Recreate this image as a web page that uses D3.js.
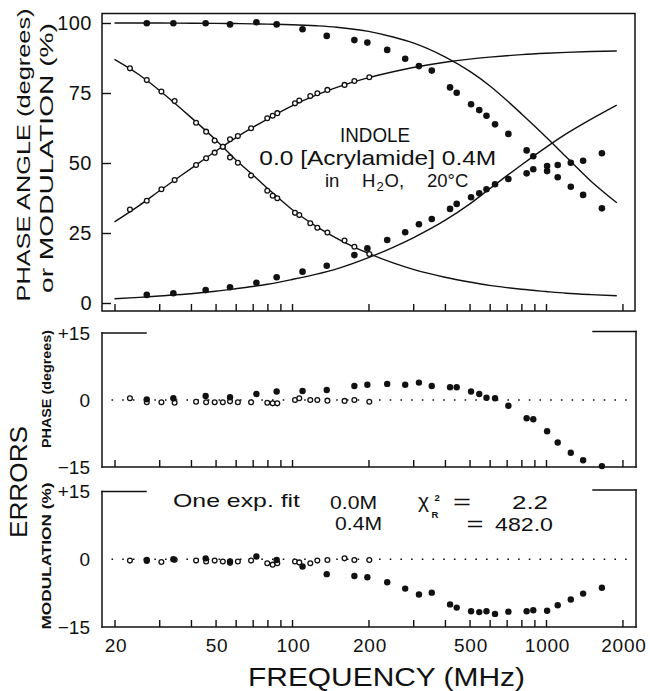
<!DOCTYPE html>
<html>
<head>
<meta charset="utf-8">
<script src="https://cdn.jsdelivr.net/npm/d3@7"></script>
<style>
  html, body { margin: 0; padding: 0; background: #fff; }
  svg { display: block; }
</style>
</head>
<body>
<svg id="chart" width="650" height="691"></svg>
<script>
// ---- Indole, acrylamide quenching: frequency-domain phase / modulation data ----

// Modulation frequencies (MHz), no quencher (open circles)
const freq0 = [23.0, 26.8, 30.6, 34.5, 41.9, 45.9, 49.6, 53.4, 57.0, 61.2, 69.0,
               79.9, 83.9, 87.5, 102.7, 106.8, 118.0, 125.8, 137.8, 161.0, 176.0, 201.5];
const phase0 = [33.4, 36.5, 40.6, 43.9, 49.3, 51.7, 53.7, 55.8, 58.5, 59.6, 62.4,
                66.0, 66.9, 67.8, 71.3, 72.3, 73.9, 74.9, 76.1, 77.9, 79.3, 80.6];
const mod0   = [83.8, 79.6, 75.5, 72.1, 64.4, 61.2, 58.0, 55.8, 52.0, 50.1, 45.5,
                40.1, 38.3, 37.4, 32.2, 31.4, 28.5, 26.9, 25.2, 22.3, 20.1, 17.5];
const phaseErr0 = [0.4, -0.5, -0.5, -0.6, -0.4, -0.5, -0.5, -0.5, -0.3, -0.5, -0.5,
                   -0.6, -0.75, -0.75, 0.0, 0.4, 0.0, 0.0, -0.15, -0.2, 0.0, -0.4];
const modErr0   = [-0.3, -0.4, -0.6, -0.1, -0.3, -0.5, -0.3, -0.5, -0.8, -0.5, -0.3,
                   -0.9, -1.2, -0.9, -0.5, -0.7, -0.9, -0.3, -0.15, 0.2, -0.15, -0.15];

// Modulation frequencies (MHz), 0.4 M acrylamide (filled circles)
const freq4 = [26.8, 34.1, 45.7, 57.0, 72.4, 87.0, 110, 137, 176, 198, 237, 279, 316, 355,
               419, 445, 507, 546, 583, 630, 711, 839, 891, 1010, 1112, 1252, 1400, 1660];
const phase4 = [2.9, 3.5, 4.6, 5.6, 7.25, 9.2, 11.2, 13.3, 17.1, 19.5, 22.5, 25.25, 28.1, 30.0,
                33.6, 35.4, 37.75, 39.2, 40.6, 42.4, 44.3, 46.3, 47.75, 48.9, 49.3, 50.1, 50.8, 53.5];
const mod4   = [99.9, 99.9, 99.9, 99.5, 100.25, 99.5, 97.75, 95.4, 93.9, 93.0, 90.4, 87.25, 84.6, 83.0,
                77.0, 75.1, 71.0, 68.9, 66.9, 63.8, 60.4, 54.5, 52.4, 47.1, 44.9, 41.5, 38.6, 33.8];
const phaseErr4 = [0.15, 0.4, 0.9, 0.6, 1.35, 1.9, 2.0, 2.25, 3.15, 3.4, 3.6, 3.4, 3.9, 3.15,
                   2.85, 2.85, 1.9, 1.35, 0.5, 0.4, -1.3, -4.1, -4.3, -7.0, -9.5, -11.8, -13.5, -14.8];
const modErr4   = [-0.15, 0.0, 0.2, -0.5, 0.6, -0.15, -1.6, -3.3, -3.7, -4.0, -5.1, -6.5, -7.8, -7.4,
                   -10.0, -10.7, -11.5, -11.7, -11.5, -12.1, -11.6, -11.5, -11.3, -11.4, -10.2, -8.9, -7.6, -6.3];

// One-exponential fit curves
const fitFreq   = [20, 25, 30, 40, 50, 60, 70, 80, 100, 125, 150, 200, 250, 300, 400,
                   500, 600, 700, 800, 1000, 1200, 1500, 1900];
const fitPhase0 = [29.0, 34.8, 40.0, 48.0, 54.2, 59.0, 62.7, 65.7, 70.4, 74.3, 77.0, 80.5, 82.6, 84.1, 86.0,
                   87.1, 87.8, 88.3, 88.7, 89.2, 89.5, 89.8, 90.0];
const fitMod0   = [87.0, 81.5, 76.0, 66.3, 58.3, 51.2, 45.8, 41.0, 33.4, 27.3, 23.1, 17.7, 14.3, 12.0, 9.2,
                   7.5, 6.3, 5.5, 4.9, 4.1, 3.5, 3.0, 2.6];
const fitPhase4 = [1.5, 2.0, 2.5, 3.3, 4.2, 5.1, 5.9, 6.7, 8.4, 10.3, 12.2, 16.2, 19.9, 23.3, 29.5,
                   35.3, 40.8, 45.4, 49.3, 55.6, 60.4, 65.6, 70.7];
const fitMod4   = [100.0, 100.0, 100.0, 99.9, 99.85, 99.8, 99.7, 99.6, 99.4, 99.0, 98.5, 97.0, 95.0, 92.9, 87.9,
                   82.8, 77.6, 72.4, 67.6, 59.3, 52.2, 43.6, 35.8];

// Axis ticks and labels
const freqTicks = [20, 30, 40, 50, 60, 70, 80, 90, 100, 200, 300, 400, 500, 600, 700, 800, 900, 1000, 2000];
const freqLabels = [20, 50, 100, 200, 500, 1000, 2000];
const topTicks = [0, 25, 50, 75, 100];
const errTicks = [-15, 0, 15];

// ---------------------------------------------------------------------------
const FONT = '"Liberation Sans", Arial, Helvetica, sans-serif';
const svg = d3.select("#chart");
const zip = (fs, vs) => fs.map((f, i) => ({ f, v: vs[i] }));

const x = d3.scaleLog().domain([20, 1000]).range([114.5, 546]);
const yTop = d3.scaleLinear().domain([0, 100]).range([303, 23]);
const yPh  = d3.scaleLinear().domain([-15, 15]).range([467, 333]);
const yMod = d3.scaleLinear().domain([-15, 15]).range([627, 491.5]);

const L = 102, R = 636;
const ink = "#111";

function seg(x1, y1, x2, y2, w = 1.5) {
  svg.append("line").attr("x1", x1).attr("y1", y1).attr("x2", x2).attr("y2", y2)
    .attr("stroke", ink).attr("stroke-width", w).attr("stroke-linecap", "square");
}

function text(s, px, py, o = {}) {
  const t = svg.append("text")
    .attr("x", px).attr("y", py)
    .attr("font-family", FONT)
    .attr("font-size", o.size || 19)
    .attr("font-weight", o.weight || "normal")
    .attr("fill", ink)
    .attr("text-anchor", o.anchor || "start")
    .text(s);
  if (o.len) t.attr("textLength", o.len).attr("lengthAdjust", "spacingAndGlyphs");
  if (o.rot) t.attr("transform", `rotate(${o.rot},${px},${py})`);
  if (o.ls) t.attr("letter-spacing", o.ls);
  return t;
}

// ---- frames ----
// main panel: closed box
svg.append("rect").attr("x", L).attr("y", 13.5).attr("width", R - 1 - L).attr("height", 311 - 13.5)
  .attr("fill", "none").attr("stroke", ink).attr("stroke-width", 1.5);

// residual panels: open-topped boxes with short corner segments
function errFrame(yScale) {
  const top = yScale(15), bot = yScale(-15);
  seg(L, top, L, bot);
  seg(L, bot, R, bot);
  seg(R, top - 1.5, R, bot);
  seg(L, top, L + 44, top);
  seg(R - 43, top - 1.5, R, top - 1.5);
}
errFrame(yPh);
errFrame(yMod);

// ---- frequency ticks (inward) on each panel ----
function freqAxis(yPos) {
  const g = svg.append("g").attr("transform", `translate(0,${yPos})`)
    .call(d3.axisBottom(x).tickValues(freqTicks).tickSize(-7).tickFormat(""));
  g.select(".domain").remove();
  g.selectAll(".tick line").attr("stroke", ink).attr("stroke-width", 1.4);
}
freqAxis(311);
freqAxis(yPh(-15));
freqAxis(yMod(-15));

// frequency labels
freqLabels.forEach(f => {
  text(String(f), x(f) + 1.5, 651.5, { size: 19, anchor: "middle", ls: 0.8 });
});
text("FREQUENCY  (MHz)", 248, 686, { size: 26.5, len: 277 });

// ---- left axes ----
const gTopAxis = svg.append("g").attr("transform", `translate(${L},0)`)
  .call(d3.axisLeft(yTop).tickValues(topTicks).tickSize(-9).tickPadding(10).tickFormat(d => String(d)));
gTopAxis.select(".domain").remove();
gTopAxis.selectAll(".tick line").attr("stroke", ink).attr("stroke-width", 1.4);
gTopAxis.selectAll(".tick text").attr("font-family", FONT).attr("font-size", 20).attr("fill", ink)
  .attr("letter-spacing", 0.5);

function errAxis(yScale) {
  const g = svg.append("g").attr("transform", `translate(${L},0)`)
    .call(d3.axisLeft(yScale).tickValues(errTicks).tickSize(0).tickPadding(12)
      .tickFormat(d => d > 0 ? "+" + d : d < 0 ? "\u2212" + (-d) : "0"));
  g.select(".domain").remove();
  g.selectAll(".tick text").attr("font-family", FONT).attr("font-size", 19).attr("fill", ink);
}
errAxis(yPh);
errAxis(yMod);

// ---- axis titles ----
text("PHASE ANGLE  (degrees)", 30, 155, { size: 19, anchor: "middle", rot: -90, len: 293 });
text("or MODULATION  (%)", 53, 158, { size: 19, anchor: "middle", rot: -90, len: 270 });
text("ERRORS", 27, 482, { size: 23, anchor: "middle", rot: -90, len: 112 });
text("PHASE (degrees)", 51, 389, { size: 12.5, weight: "bold", anchor: "middle", rot: -90, len: 118 });
text("MODULATION  (%)", 51, 556, { size: 12.5, weight: "bold", anchor: "middle", rot: -90, len: 147 });

// ---- fit curves ----
const line = d3.line().x(d => x(d.f)).y(d => yTop(d.v)).curve(d3.curveMonotoneX);
[fitPhase0, fitMod0, fitPhase4, fitMod4].forEach(vals => {
  svg.append("path").datum(zip(fitFreq, vals)).attr("d", line)
    .attr("fill", "none").attr("stroke", ink).attr("stroke-width", 1.4);
});

// ---- main-panel points ----
function openDots(fs, vs, yScale, r) {
  svg.append("g").selectAll("circle").data(zip(fs, vs)).join("circle")
    .attr("cx", d => x(d.f)).attr("cy", d => yScale(d.v)).attr("r", r)
    .attr("fill", "#fff").attr("stroke", ink).attr("stroke-width", 1.3);
}
function filledDots(fs, vs, yScale, r) {
  svg.append("g").selectAll("circle").data(zip(fs, vs)).join("circle")
    .attr("cx", d => x(d.f)).attr("cy", d => yScale(d.v)).attr("r", r)
    .attr("fill", ink);
}
openDots(freq0, phase0, yTop, 2.4);
openDots(freq0, mod0, yTop, 2.4);
filledDots(freq4, phase4, yTop, 3.3);
filledDots(freq4, mod4, yTop, 3.3);

// ---- residual panels ----
function zeroLine(yScale) {
  svg.append("line").attr("x1", L + 9.5).attr("x2", R - 2).attr("y1", yScale(0)).attr("y2", yScale(0))
    .attr("stroke", ink).attr("stroke-width", 1.6).attr("stroke-dasharray", "1.6 9.1");
}
zeroLine(yPh);
zeroLine(yMod);
openDots(freq0, phaseErr0, yPh, 2.4);
filledDots(freq4, phaseErr4, yPh, 3.2);
openDots(freq0, modErr0, yMod, 2.4);
filledDots(freq4, modErr4, yMod, 3.2);

// ---- annotations ----
text("INDOLE", 340, 141.7, { size: 20.5, len: 70 });
text("0.0  [Acrylamide]  0.4M", 259.3, 165, { size: 20.5, len: 237 });
const sol = svg.append("text").attr("y", 186.5).attr("font-family", FONT).attr("font-size", 18.5).attr("fill", ink);
sol.append("tspan").attr("x", 325).text("in");
sol.append("tspan").attr("x", 362).text("H");
sol.append("tspan").attr("font-size", 13).attr("dy", 4.5).attr("dx", 1).text("2");
sol.append("tspan").attr("dy", -4.5).attr("dx", 1).text("O,");
sol.append("tspan").attr("x", 427).text("20\u00B0C");

text("One exp.  fit", 173, 507, { size: 18.5, len: 127 });
text("0.0M", 330, 508.5, { size: 18.5, len: 47 });
text("0.4M", 335, 530, { size: 18.5, len: 47 });
text("\u03C7", 418, 508, { size: 21 });
text("2", 434.5, 501, { size: 9.5, weight: "bold" });
text("R", 431.5, 518, { size: 9.5, weight: "bold" });
text("=", 453, 508.5, { size: 21, len: 18 });
text("2.2", 512, 508.5, { size: 18.5, len: 36 });
text("=", 466.5, 530.5, { size: 21, len: 17 });
text("482.0", 495, 531, { size: 18.5, len: 58 });
</script>
</body>
</html>
